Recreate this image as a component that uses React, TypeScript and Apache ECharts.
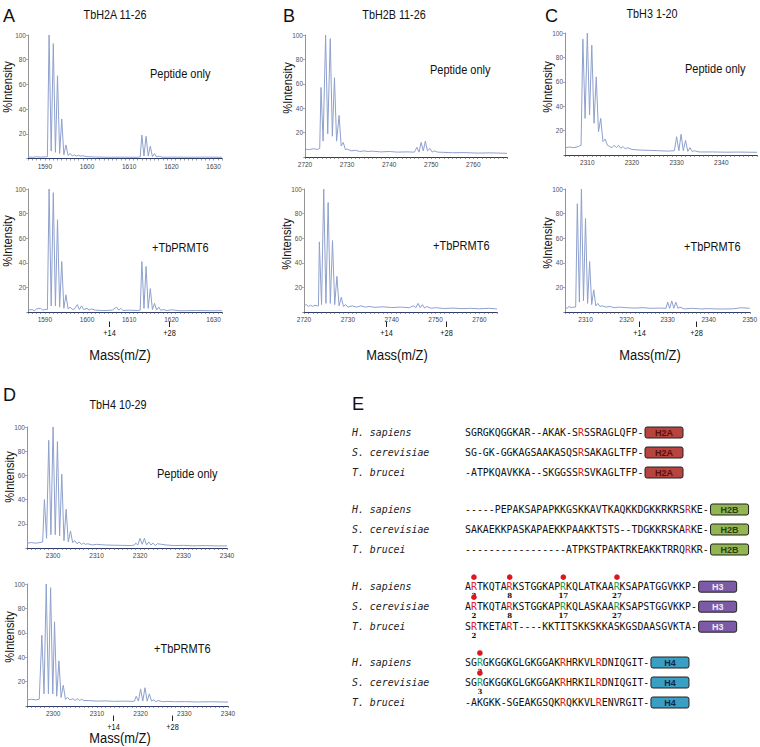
import React, { useEffect, useRef } from 'react';
import * as echarts from 'echarts';

type Pt = [number, number];

// ---------- Spectra (m/z, %intensity) ----------
const A_TOP: Pt[] = [
  [1586, 1.2], [1587, 1.0], [1588, 1.4], [1589, 1.1], [1590, 1.3], [1590.6, 1.5],
  [1591, 100], [1591.5, 6], [1592, 93], [1592.5, 5], [1593, 67], [1593.5, 4], [1594, 32], [1594.5, 3],
  [1595, 11], [1595.5, 2.5], [1596, 4], [1596.5, 2], [1597, 3], [1597.5, 2], [1598, 2.5], [1598.5, 2],
  [1599, 2.2], [1600, 1.5], [1602, 1.2], [1605, 1], [1608, 1.1], [1610, 1], [1612, 1], [1612.6, 1.2],
  [1613, 19], [1613.5, 2], [1614, 18], [1614.5, 2], [1615, 10], [1615.5, 1.5], [1616, 4], [1616.5, 1.2],
  [1617, 1.8], [1618, 1], [1620, 1.1], [1624, 1], [1628, 1.1], [1632, 1],
];
const A_BOTTOM: Pt[] = [
  [1586, 1.5], [1587, 2], [1587.5, 1], [1588, 2.5], [1589, 3], [1589.5, 1.5], [1590, 2], [1590.6, 2],
  [1591, 100], [1591.5, 5], [1592, 97], [1592.5, 5], [1593, 75], [1593.5, 4], [1594, 41], [1594.5, 3],
  [1595, 14], [1595.5, 2.5], [1596, 4], [1596.5, 2], [1597, 2.5], [1597.7, 6], [1598.2, 2], [1598.7, 5],
  [1599.2, 2], [1600, 3], [1600.5, 1.5], [1601, 2.5], [1602, 1.5], [1604, 1.2], [1606, 1.5], [1607, 4],
  [1607.5, 1.5], [1608, 3], [1608.5, 1.2], [1610, 1.5], [1612, 1.2], [1612.6, 1.5],
  [1613, 41], [1613.5, 3], [1614, 37], [1614.5, 3], [1615, 19], [1615.5, 2], [1616, 7], [1616.5, 1.5],
  [1617, 4], [1617.5, 1.2], [1618, 2], [1619, 1.2], [1620, 1.8], [1622, 1], [1626, 1.2], [1630, 1], [1632, 1.1],
];
const B_TOP: Pt[] = [
  [2720, 6.5], [2721, 6], [2722, 6.8], [2723, 6.2], [2723.5, 7],
  [2723.8, 57], [2724.3, 13], [2724.9, 100], [2725.4, 19], [2726, 97], [2726.5, 17], [2727, 65], [2727.5, 13],
  [2728.1, 34], [2728.6, 9], [2729.1, 12], [2729.6, 6], [2730, 6.5], [2731, 5], [2732, 5.5], [2733, 4.5],
  [2734, 5], [2735, 4.5], [2736, 4.8], [2738, 4.2], [2740, 4.5], [2742, 4], [2744, 4.2], [2746, 4],
  [2746.6, 8], [2747.1, 4], [2747.6, 12], [2748.1, 5], [2748.6, 13], [2749.1, 5], [2749.7, 7], [2750.2, 4],
  [2750.7, 5], [2751.5, 4], [2753, 3.8], [2755, 3.5], [2758, 3.6], [2761, 3.2], [2764, 3.4], [2768, 3],
];
const B_BOTTOM: Pt[] = [
  [2720, 5], [2720.5, 6], [2721, 4.5], [2721.5, 5.5], [2722, 4.5], [2722.5, 5.5], [2723, 5], [2723.3, 5],
  [2723.5, 57], [2724, 6], [2724.5, 100], [2725, 7], [2725.5, 89], [2726, 7], [2726.5, 58], [2727, 6],
  [2727.5, 29], [2728, 5], [2728.5, 12], [2729, 4.5], [2729.5, 6], [2730, 4], [2731, 5], [2732, 4],
  [2733, 5], [2734, 4], [2735, 4.5], [2736, 3.8], [2738, 4.2], [2740, 3.6], [2742, 4], [2744, 3.5],
  [2745, 5], [2745.5, 3.5], [2746, 7], [2746.5, 3.5], [2747, 6], [2747.5, 3.2], [2748, 4.5], [2749, 3],
  [2750, 3.5], [2752, 2.8], [2754, 3.2], [2756, 2.7], [2758, 3], [2760, 2.6], [2762, 3], [2764, 2.5],
];
const C_TOP: Pt[] = [
  [2305, 6], [2306, 6.5], [2307, 6], [2308, 7], [2308.6, 8],
  [2309, 95], [2309.5, 30], [2310, 100], [2310.5, 33], [2311, 90], [2311.5, 26], [2312, 64], [2312.5, 19],
  [2313, 30], [2313.5, 11], [2314, 13], [2314.5, 8], [2315, 7], [2315.5, 6], [2316, 8], [2316.5, 6],
  [2317, 8], [2317.5, 5.5], [2318, 7], [2318.5, 5], [2319, 6], [2320, 4.5], [2322, 4], [2324, 3.8],
  [2326, 3.5], [2328, 3.2], [2329.5, 3.5], [2330, 15], [2330.5, 3.5], [2331, 17], [2331.5, 3.5],
  [2332, 12], [2332.5, 3], [2333, 6], [2333.5, 2.8], [2334, 3.5], [2335, 2.5], [2338, 2.5], [2341, 2.3],
  [2344, 2.4], [2348, 2.2],
];
const C_BOTTOM: Pt[] = [
  [2305, 4], [2305.5, 3], [2306, 4.5], [2306.5, 3.5], [2307, 4], [2307.6, 4],
  [2308, 88], [2308.5, 8], [2309, 100], [2309.5, 9], [2310, 76], [2310.5, 7], [2311, 41], [2311.5, 6],
  [2312, 18], [2312.5, 5], [2313, 7], [2313.5, 4.5], [2314, 5], [2315, 4], [2316, 4.5], [2317, 3.5],
  [2318, 4], [2320, 3.5], [2322, 3.2], [2324, 3.5], [2326, 3], [2328, 3.2], [2329.6, 3], [2330, 8],
  [2330.5, 3], [2331, 9], [2331.5, 3], [2332, 8], [2332.5, 3], [2333, 4], [2334, 2.5], [2336, 3],
  [2338, 2.5], [2340, 2.7], [2343, 2.4], [2346, 2.6], [2348, 3.5], [2350, 3],
];
const D_TOP: Pt[] = [
  [2294, 4], [2295, 4.5], [2296, 4], [2297, 4.5], [2297.6, 5],
  [2298, 40], [2298.5, 8], [2299, 89], [2299.5, 11], [2300, 100], [2300.5, 11], [2301, 88], [2301.5, 10],
  [2302, 61], [2302.5, 6], [2303, 32], [2303.5, 5], [2304, 14], [2304.5, 4.5], [2305, 6], [2305.5, 3.5],
  [2306, 5], [2306.5, 3], [2307, 4], [2307.5, 3], [2308, 3.5], [2309, 2.5], [2310, 3], [2312, 2.5],
  [2314, 2.3], [2316, 2.2], [2318, 2], [2318.7, 2.5], [2319, 4], [2319.5, 2.5], [2320, 8], [2320.5, 3],
  [2321, 8], [2321.5, 2.5], [2322, 5], [2322.5, 2.5], [2323, 4], [2323.5, 2], [2324, 3.5], [2325, 3],
  [2326, 2.5], [2328, 2], [2330, 2.2], [2332, 1.8], [2335, 2], [2338, 1.7], [2340, 1.8],
];
const D_BOTTOM: Pt[] = [
  [2294, 5], [2295, 5.5], [2296, 5], [2296.8, 5.5],
  [2297.4, 58], [2297.9, 10], [2298.4, 100], [2298.9, 10], [2299.4, 97], [2299.9, 10], [2300.3, 69],
  [2300.8, 8], [2301.3, 37], [2301.8, 7], [2302.3, 17], [2302.8, 5.5], [2303.3, 7], [2303.8, 5],
  [2304.5, 6], [2305, 4.5], [2305.5, 6], [2306, 4.5], [2306.5, 5.5], [2307, 4.5], [2308, 4.5], [2310, 4],
  [2312, 4.2], [2314, 3.8], [2316, 4], [2318, 3.8], [2318.6, 4], [2319, 8], [2319.5, 4], [2320, 14],
  [2320.5, 4], [2321, 15], [2321.5, 4], [2322, 10], [2322.5, 4], [2323, 5], [2323.5, 3.5], [2324, 4.5],
  [2325, 3.5], [2326, 3.8], [2328, 3.5], [2330, 3.6], [2333, 3.3], [2336, 3.5], [2340, 3.2],
];

const SPECTRA = [A_TOP, A_BOTTOM, B_TOP, B_BOTTOM, C_TOP, C_BOTTOM, D_TOP, D_BOTTOM];
const X_RANGES: Pt[] = [
  [1586, 1632], [1586, 1632], [2720, 2768], [2720, 2764],
  [2305, 2348], [2305, 2350], [2294, 2340], [2294, 2340],
];
// +14 / +28 mass markers under the "+TbPRMT6" spectra (grid index -> m/z)
const MARKER_GRIDS = [1, 3, 5, 7];
const MARKER_MZ: Pt[] = [[1605.2, 1619.5], [2738.6, 2752.3], [2323, 2337], [2313.6, 2327.2]];
const MARKER_TEXT = ['+14', '+28'];

const PANEL_LETTERS = ['A', 'B', 'C', 'D', 'E'];
const PANEL_TITLES = ['TbH2A 11-26', 'TbH2B 11-26', 'TbH3 1-20', 'TbH4 10-29'];
const CONDITIONS = ['Peptide only', '+TbPRMT6'];
const Y_NAME = '%Intensity';
const X_NAME = 'Mass(m/Z)';

// ---------- Panel E: sequence alignment ----------
const E_SPECIES = ['H. sapiens', 'S. cerevisiae', 'T. brucei'];
const HISTONES = ['H2A', 'H2B', 'H3', 'H4'];
const H2A_SEQ = ['SGRGKQGGKAR--AKAK-SRSSRAGLQFP-', 'SG-GK-GGKAGSAAKASQSRSAKAGLTFP-', '-ATPKQAVKKA--SKGGSSRSVKAGLTFP-'];
const H2B_SEQ = [
  '-----PEPAKSAPAPKKGSKKAVTKAQKKDGKKRKRSRKE-',
  'SAKAEKKPASKAPAEKKPAAKKTSTS--TDGKKRSKARKE-',
  '-----------------ATPKSTPAKTRKEAKKTRRQRKR-',
];
const H3_SEQ = [
  'ARTKQTARKSTGGKAPRKQLATKAARKSAPATGGVKKP-',
  'ARTKQTARKSTGGKAPRKQLASKAARKSAPSTGGVKKP-',
  'SRTKETART----KKTITSKKSKKASKGSDAASGVKTA-',
];
const H4_SEQ = ['SGRGKGGKGLGKGGAKRHRKVLRDNIQGIT-', 'SGRGKGGKGLGKGGAKRHRKILRDNIQGIT-', '-AKGKK-SGEAKGSQKRQKKVLRENVRGIT-'];
const SEQS = [H2A_SEQ, H2B_SEQ, H3_SEQ, H4_SEQ];
// residue indexes (0-based) coloured red / green, per histone per species
const RED_POS = [
  [[19], [19], [19]],
  [[37], [37], [37]],
  [[1, 7], [1, 7], [1, 7]],
  [[16, 22], [16, 22], [16, 22]],
];
const GREEN_POS = [
  [[], [], []],
  [[], [], []],
  [[16, 25], [16, 25], []],
  [[2], [2], []],
];
const DOT_POS = [
  [[], [], []],
  [[], [], []],
  [[1, 7, 16, 25], [1], []],
  [[2], [2], []],
];
const SITE_LABELS: Record<number, string>[][] = [
  [{}, {}, {}],
  [{}, {}, {}],
  [{ 1: '2', 7: '8', 16: '17', 25: '27' }, { 1: '2', 7: '8', 16: '17', 25: '27' }, { 1: '2' }],
  [{ 2: '3' }, { 2: '3' }, {}],
];

// ---------- Layout & style ----------
const SANS = '"Liberation Sans", Arial, sans-serif';
const MONO = '"DejaVu Sans Mono", monospace';
const SERIF = '"DejaVu Serif", "Liberation Serif", serif';
const LINE_COLOR = '#8ea0cd';
const GRIDS = [
  { left: 28, top: 35, width: 194, height: 123.5 },
  { left: 28, top: 189, width: 194, height: 123 },
  { left: 305, top: 35, width: 202, height: 122 },
  { left: 304, top: 189, width: 193, height: 123 },
  { left: 565, top: 33, width: 192, height: 122 },
  { left: 565, top: 189, width: 188, height: 123 },
  { left: 27, top: 427, width: 200, height: 121 },
  { left: 27, top: 584, width: 201, height: 122 },
];
const LETTER_POS = [[3, 15], [283, 15], [545, 15], [3, 394], [352, 403]];
const TITLE_POS = [[115, 15], [394, 15], [652, 14], [118, 405]];
const COND_POS = [[150, 73], [152, 247], [430, 69], [433, 245], [685, 68], [684, 246], [157, 473], [154, 648]];
const YNAME_POS = [[8, 87], [8, 241], [288, 88], [287, 244], [548, 87], [548, 243], [10, 477], [10, 637]];
const XNAME_POS = [[120, 355], [397, 355], [650, 355], [120, 738]];
const BOX_COLORS = ['#b8443f', '#93b552', '#7c5aa6', '#3b9ec3'];
const BOX_TEXT = ['#5a0f0f', '#2f3f12', '#f0eaf8', '#0f2b45'];
const SEQ_X = 465;
const CHAR_W = 5.96;
const SPECIES_X = 352;
const GROUP_Y = [432.5, 509.5, 586.7, 662.5];
const ROW_DY = 20;
const NARROW = 0.86;

function buildOption(): any {
  return {
    animation: false,
    backgroundColor: '#ffffff',
    grid: GRIDS.map((g) => ({ ...g, containLabel: false })),
    xAxis: GRIDS.map((_, i) => ({
      type: 'value',
      gridIndex: i,
      min: X_RANGES[i][0],
      max: X_RANGES[i][1],
      interval: 1,
      axisLine: { show: true, onZero: false, lineStyle: { color: '#2e3c6c', width: 1.2 } },
      axisTick: { show: true, length: 2, lineStyle: { color: '#555', width: 0.6 } },
      axisLabel: {
        fontSize: 6.5,
        color: '#444',
        margin: 4,
        fontFamily: SANS,
        formatter: (v: number) => (Math.round(v) % 10 === 0 ? String(Math.round(v)) : ''),
      },
      splitLine: { show: false },
    })),
    yAxis: GRIDS.map((_, i) => ({
      type: 'value',
      gridIndex: i,
      min: 0,
      max: 100,
      interval: 20,
      axisLine: { show: true, lineStyle: { color: '#777', width: 0.8 } },
      axisTick: { show: true, length: 2, lineStyle: { color: '#777', width: 0.6 } },
      axisLabel: {
        fontSize: 6.5,
        color: '#555',
        margin: 2,
        fontFamily: SANS,
        formatter: (v: number) => (v === 0 ? '' : String(v)),
      },
      splitLine: { show: false },
    })),
    series: SPECTRA.map((data, i) => ({
      type: 'line',
      xAxisIndex: i,
      yAxisIndex: i,
      data,
      showSymbol: false,
      symbol: 'none',
      lineStyle: { color: LINE_COLOR, width: 1 },
      z: 3,
    })),
  };
}

function text(x: number, y: number, t: string, style: any = {}, extra: any = {}) {
  return {
    type: 'text',
    x,
    y,
    silent: true,
    ...extra,
    style: {
      text: t,
      fill: '#111',
      fontSize: 11,
      fontFamily: SANS,
      align: 'left',
      verticalAlign: 'middle',
      ...style,
    },
  };
}

function buildGraphics(chart: any) {
  const g: any[] = [];
  PANEL_LETTERS.forEach((l, i) => {
    g.push(text(LETTER_POS[i][0], LETTER_POS[i][1], l, { fontSize: 19 }, { scaleX: 0.95 }));
  });
  PANEL_TITLES.forEach((t, i) => {
    g.push(text(TITLE_POS[i][0], TITLE_POS[i][1], t, { align: 'center', fontSize: 12 }, { scaleX: 0.9 }));
  });
  COND_POS.forEach((p, i) => {
    g.push(text(p[0], p[1], CONDITIONS[i % 2], { fontSize: 12.5 }, { scaleX: 0.88 }));
  });
  YNAME_POS.forEach((p) => {
    g.push(text(p[0], p[1], Y_NAME, { align: 'center', fontSize: 13 }, { rotation: Math.PI / 2, scaleX: NARROW }));
  });
  XNAME_POS.forEach((p) => {
    g.push(text(p[0], p[1], X_NAME, { align: 'center', fontSize: 15 }, { scaleX: NARROW }));
  });
  // +14 / +28 markers
  MARKER_GRIDS.forEach((gi, k) => {
    const base = GRIDS[gi].top + GRIDS[gi].height;
    MARKER_MZ[k].forEach((mz, j) => {
      const px = chart.convertToPixel({ gridIndex: gi }, [mz, 0]);
      const x = Math.round(px[0]) + 0.5;
      g.push({
        type: 'line',
        silent: true,
        shape: { x1: x, y1: base + 9.5, x2: x, y2: base + 15 },
        style: { stroke: '#222', lineWidth: 1 },
      });
      g.push(text(x, base + 21.5, MARKER_TEXT[j], { align: 'center', fontSize: 9 }, { scaleX: 0.82 }));
    });
  });

  // Panel E
  const seqFont = { fontFamily: MONO, fontSize: 9.9 };
  SEQS.forEach((rows, h) => {
    rows.forEach((seq, s) => {
      const y = GROUP_Y[h] + s * ROW_DY;
      g.push(
        text(SPECIES_X, y, E_SPECIES[s], { ...seqFont, fontStyle: 'italic', fill: '#222' })
      );
      const red = RED_POS[h][s];
      const green = GREEN_POS[h][s];
      let rich = '';
      for (let i = 0; i < seq.length; i++) {
        const c = seq[i];
        if (red.includes(i)) rich += `{r|${c}}`;
        else if (green.includes(i)) rich += `{g|${c}}`;
        else rich += `{n|${c}}`;
      }
      g.push(
        text(SEQ_X, y, rich, {
          ...seqFont,
          rich: {
            n: { ...seqFont, fill: '#111' },
            r: { ...seqFont, fill: '#e3202a' },
            g: { ...seqFont, fill: '#27a257' },
          },
        })
      );
      // dots above modified residues
      DOT_POS[h][s].forEach((i) => {
        g.push({
          type: 'circle',
          silent: true,
          shape: { cx: SEQ_X + (i + 0.5) * CHAR_W, cy: y - 9.5, r: 2.8 },
          style: { fill: '#e0161e' },
          z: 10,
        });
      });
      // site numbers below
      Object.keys(SITE_LABELS[h][s]).forEach((k) => {
        const i = Number(k);
        g.push(
          text(SEQ_X + (i + 0.5) * CHAR_W, y + 8.5, SITE_LABELS[h][s][i], {
            align: 'center',
            fontSize: 7,
            fontWeight: 'bold',
            fontFamily: SERIF,
          })
        );
      });
      // histone box
      const bx = SEQ_X + seq.length * CHAR_W + 1.2;
      g.push({
        type: 'rect',
        silent: true,
        shape: { x: bx, y: y - 5.5, width: 38, height: 11, r: 2 },
        style: { fill: BOX_COLORS[h], stroke: '#222', lineWidth: 1 },
      });
      g.push(
        text(bx + 19, y + 0.5, HISTONES[h], {
          align: 'center',
          fontSize: 9,
          fontWeight: 'bold',
          fill: BOX_TEXT[h],
        })
      );
    });
  });
  return g;
}

export default function App() {
  const ref = useRef<HTMLDivElement>(null);
  useEffect(() => {
    if (!ref.current) return;
    const chart = echarts.init(ref.current, undefined, { renderer: 'svg' });
    chart.setOption(buildOption());
    chart.setOption({ graphic: buildGraphics(chart) });
    return () => chart.dispose();
  }, []);
  return (
    <div
      ref={ref}
      style={{ position: 'absolute', left: 0, top: 0, width: 760, height: 747, background: '#fff' }}
    />
  );
}
